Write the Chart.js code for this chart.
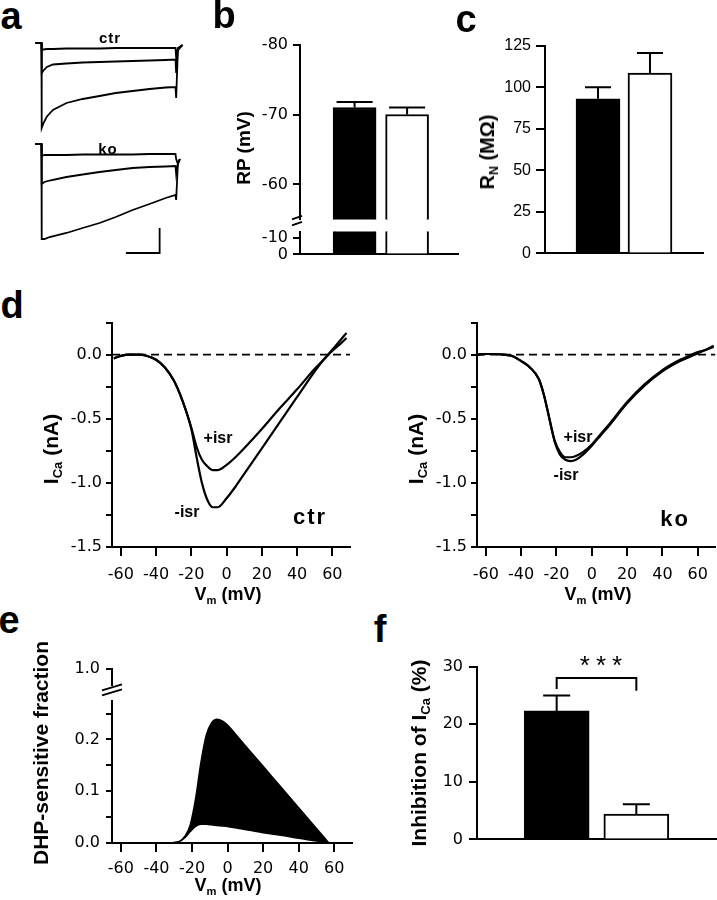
<!DOCTYPE html>
<html>
<head>
<meta charset="utf-8">
<script src="https://cdn.jsdelivr.net/npm/chart.js@4.4.1/dist/chart.umd.min.js"></script>
<style>
  body { margin: 0; background: #fff; width: 717px; height: 900px; position: relative; overflow: hidden;
         font-family: 'Liberation Sans', Arial, sans-serif; color: #000; }
  canvas { position: absolute; }
  .t { position: absolute; white-space: nowrap; line-height: 1; transform: translate(-50%, -50%); z-index: 2; }
  .r { transform: translate(-50%, -50%) rotate(-90deg); }
  .t sub { font-size: 0.62em; vertical-align: baseline; position: relative; top: 0.32em; }
  .L { font-size: 38px; font-weight: bold; }
  .ax { font-size: 19px; font-weight: bold; }
  .ax2 { font-size: 21px; font-weight: bold; }
  .axh { font-size: 18px; font-weight: bold; }
  .isr { font-size: 16px; font-weight: bold; }
  .grp { font-size: 22px; font-weight: bold; letter-spacing: 2px; }
  .grp-s { font-size: 15px; font-weight: bold; letter-spacing: 1px; }
</style>
</head>
<body>

<div class="t L" style="left:11px;top:16px">a</div>
<div class="t L" style="left:224px;top:15px">b</div>
<div class="t L" style="left:466px;top:19px">c</div>
<div class="t L" style="left:12px;top:305px">d</div>
<div class="t L" style="left:9px;top:620px">e</div>
<div class="t L" style="left:380px;top:629px">f</div>

<div class="t grp-s" style="left:110px;top:37px">ctr</div>
<div class="t grp-s" style="left:108px;top:148px">ko</div>

<div class="t ax r" style="left:243px;top:148px">RP (mV)</div>
<div class="t ax r" style="left:487px;top:152px;font-size:20px">R<sub>N</sub> (MΩ)</div>

<div class="t ax2 r" style="left:50px;top:449px">I<sub>Ca</sub> (nA)</div>
<div class="t ax2 r" style="left:415px;top:449px">I<sub>Ca</sub> (nA)</div>
<div class="t axh" style="left:228px;top:594px">V<sub>m</sub> (mV)</div>
<div class="t axh" style="left:598px;top:594px">V<sub>m</sub> (mV)</div>
<div class="t isr" style="left:218px;top:438px">+isr</div>
<div class="t isr" style="left:187px;top:512px">-isr</div>
<div class="t grp" style="left:310px;top:517px">ctr</div>
<div class="t isr" style="left:578px;top:437px">+isr</div>
<div class="t isr" style="left:566px;top:475px">-isr</div>
<div class="t grp" style="left:675px;top:519px">ko</div>

<div class="t ax2 r" style="left:40px;top:753px">DHP-sensitive fraction</div>
<div class="t axh" style="left:228px;top:885px">V<sub>m</sub> (mV)</div>
<div class="t ax2 r" style="left:418px;top:753px">Inhibition of I<sub>Ca</sub> (%)</div>
<div class="t" style="left:601px;top:665px;font-size:26px;letter-spacing:6px;padding-left:6px">***</div>

<script>
// ---------- data ----------
// a: example Ca current traces, time (ms) / current (nA)
const ctrTime = [-9, -0.1, 0.3, 3, 8, 17, 37, 61, 86, 110, 135, 160, 184, 198.5, 199.5, 202, 209];
const ctrLow  = [0, 0, -0.14, -0.13, -0.12, -0.12, -0.11, -0.11, -0.11, -0.1, -0.1, -0.1, -0.1, -0.1, -0.3, -0.1, -0.04];
const ctrMid  = [0, 0, -0.6, -0.55, -0.48, -0.43, -0.41, -0.39, -0.38, -0.37, -0.36, -0.35, -0.34, -0.33, -0.6, -0.12, -0.04];
const ctrHigh = [0, 0, -1.7, -1.6, -1.47, -1.34, -1.2, -1.12, -1.06, -1.0, -0.96, -0.92, -0.89, -0.88, -1.1, -0.15, -0.04];
const koTime  = [-9, -0.1, 0.3, 4.4, 12, 37, 61, 86, 110, 135, 160, 184, 198.5, 199.5, 202, 205];
const koLow   = [0, 0, -0.24, -0.22, -0.22, -0.22, -0.21, -0.21, -0.21, -0.21, -0.2, -0.2, -0.2, -0.3, -0.4, -0.3];
const koMid   = [0, 0, -0.8, -0.76, -0.73, -0.66, -0.61, -0.56, -0.52, -0.48, -0.46, -0.45, -0.44, -0.6, -0.4, -0.3];
const koHigh  = [0, 0, -1.9, -1.9, -1.86, -1.78, -1.68, -1.58, -1.46, -1.32, -1.2, -1.08, -1.02, -1.12, -0.4, -0.3];
const scaleBarTime = [125, 175, 175];      // 50 ms
const scaleBarCurr = [-2.18, -2.18, -1.68]; // 0.5 nA

// b, c, f: bar groups
const groups = ['ctr', 'ko'];
const groupX = [1, 2];
const rpMean = [-71.0, -70.0];
const rpSem  = [0.8, 1.0];
const rnMean = [93, 108.5];
const rnSem  = [7, 12];
const inhMean = [22.3, 4.4];
const inhSem  = [2.7, 1.7];
const sigX = [1, 1, 2, 2];
const sigY = [26.1, 28, 28, 25.8];

// d: I-V curves
const vmCtr = [-64, -60, -55, -50, -45, -40, -35, -30, -25, -20, -17, -14, -11, -8, -5, 0, 5, 10, 20, 30, 40, 50, 55, 60, 65, 68];
const ctrMinusIsr = [-0.03, -0.01, 0, 0, -0.01, -0.04, -0.1, -0.2, -0.36, -0.58, -0.8, -1.0, -1.13, -1.19, -1.19, -1.12, -1.03, -0.93, -0.73, -0.53, -0.33, -0.13, -0.04, 0.04, 0.12, 0.17];
const ctrPlusIsr  = [-0.03, -0.01, 0, 0, -0.01, -0.04, -0.1, -0.2, -0.36, -0.57, -0.72, -0.82, -0.87, -0.9, -0.9, -0.86, -0.8, -0.73, -0.58, -0.42, -0.27, -0.11, -0.04, 0.03, 0.09, 0.13];
const vmKo = [-65, -60, -55, -50, -45, -40, -35, -30, -27, -24, -21, -18, -15, -12, -9, -5, 0, 5, 10, 20, 30, 40, 50, 55, 60, 65, 69];
const koMinusIsr = [0, 0.005, 0.005, 0, -0.01, -0.05, -0.1, -0.19, -0.32, -0.5, -0.68, -0.78, -0.82, -0.83, -0.82, -0.78, -0.71, -0.63, -0.55, -0.38, -0.24, -0.13, -0.05, -0.02, 0.01, 0.04, 0.06];
const koPlusIsr  = [0, 0.005, 0.005, 0, -0.01, -0.05, -0.1, -0.19, -0.32, -0.5, -0.67, -0.76, -0.8, -0.8, -0.79, -0.76, -0.7, -0.62, -0.54, -0.37, -0.23, -0.12, -0.04, -0.01, 0.02, 0.04, 0.07];
const zeroV = [-65, 70];
const zeroI = [0, 0];

// e: DHP-sensitive fraction
const vmE = [-45, -40, -35, -30, -27, -24, -21, -18, -15, -12, -9, -6, -3, 0, 5, 10, 20, 30, 40, 50, 55, 57];
const dhpCtr = [0, 0, 0, 0.001, 0.003, 0.013, 0.035, 0.085, 0.155, 0.208, 0.232, 0.239, 0.236, 0.228, 0.208, 0.188, 0.148, 0.108, 0.068, 0.028, 0.008, 0];
const dhpKo  = [0, 0, 0, 0.0005, 0.003, 0.01, 0.022, 0.032, 0.036, 0.036, 0.035, 0.034, 0.033, 0.032, 0.029, 0.026, 0.02, 0.015, 0.009, 0.004, 0.001, 0];

// tick values
const rpTicksUp = [-80, -70, -60];
const rpTicksLow = [-10, 0];
const rnTicks = [0, 25, 50, 75, 100, 125];
const vmTicks = [-60, -40, -20, 0, 20, 40, 60];
const icaTicks = [0.25, 0, -0.25, -0.5, -0.75, -1, -1.25, -1.5];
const dhpTicks = [0, 0.05, 0.1, 0.15, 0.2, 0.25];
const dhpTopTicks = [1.0];
const inhTicks = [0, 10, 20, 30];

// ---------- defaults ----------
Chart.defaults.font.family = "'DejaVu Sans', 'Liberation Sans', Arial, sans-serif";
Chart.defaults.font.size = 16;
Chart.defaults.color = '#000';
Chart.defaults.animation = false;
Chart.defaults.responsive = false;
Chart.defaults.events = [];
Chart.defaults.layout.autoPadding = false;
Chart.defaults.plugins.legend.display = false;
Chart.defaults.plugins.tooltip.enabled = false;
Chart.defaults.elements.point.radius = 0;
Chart.defaults.elements.point.hoverRadius = 0;

const ARIAL = { family: "'Liberation Sans', Arial, sans-serif", size: 16 };

const pts = (xs, ys) => xs.map((x, i) => ({x, y: ys[i]}));

// canvas placed so that the chart area lands on the given rectangle
function frame(area, box) {
    const b = Object.assign({yW: 0, xH: 0, padT: 0, padR: 0, padB: 0}, box);
    const c = document.createElement('canvas');
    c.width = area.r - area.l + b.yW + b.padR;
    c.height = area.b - area.t + b.padT + b.xH + b.padB;
    c.style.left = (area.l - b.yW) + 'px';
    c.style.top = (area.t - b.padT) + 'px';
    document.body.appendChild(c);
    return {canvas: c, padding: {left: 0, top: b.padT, right: b.padR, bottom: b.padB}, yW: b.yW, xH: b.xH};
}

function yAxis(f, min, max, ticks, fmt, tl, pad, reverse, font) {
    return {
        type: 'linear', position: 'left', min, max, reverse: !!reverse,
        afterFit: s => { s.width = f.yW; },
        afterBuildTicks: s => { s.ticks = ticks.map(v => ({value: v})); },
        grid: { drawOnChartArea: false, drawTicks: true, tickLength: tl, tickWidth: 2, tickColor: '#000', lineWidth: 2, color: '#000' },
        border: { display: true, color: '#000', width: 2 },
        ticks: { padding: pad, autoSkip: false, callback: fmt, color: '#000', font: font },
    };
}

function xAxis(f, min, max, ticks, tl, pad) {
    const ax = {
        type: 'linear', position: 'bottom', min, max, offset: false,
        afterFit: s => { s.height = f.xH; },
        border: { display: true, color: '#000', width: 2 },
    };
    if (ticks) {
        ax.afterBuildTicks = s => { s.ticks = ticks.map(v => ({value: v})); };
        ax.grid = { drawOnChartArea: false, drawTicks: true, tickLength: tl, tickWidth: 2, tickColor: '#000', lineWidth: 2, color: '#000', offset: false };
        ax.ticks = { padding: pad, autoSkip: false, maxRotation: 0, callback: v => String(v), color: '#000' };
    } else {
        ax.grid = { drawOnChartArea: false, drawTicks: false, lineWidth: 2, color: '#000', offset: false };
        ax.ticks = { display: false };
    }
    return ax;
}

const hiddenX = (min, max) => ({ type: 'linear', display: false, offset: false, min, max });

// error bars (upward only) from mean/sem arrays
const errorBarPlugin = {
    id: 'errorBars',
    afterDatasetsDraw(chart, args, o) {
        const {ctx, scales: {x, y}} = chart;
        ctx.save();
        ctx.strokeStyle = '#000';
        ctx.lineWidth = 2;
        o.x.forEach((xv, i) => {
            const m = o.mean[i];
            const tip = m + (m < 0 ? -o.sem[i] : o.sem[i]);
            const px = x.getPixelForValue(xv);
            const y0 = y.getPixelForValue(m);
            const y1 = y.getPixelForValue(tip);
            ctx.beginPath();
            ctx.moveTo(px, y0); ctx.lineTo(px, y1);
            ctx.moveTo(px - o.cap / 2, y1); ctx.lineTo(px + o.cap / 2, y1);
            ctx.stroke();
        });
        ctx.restore();
    },
};

// "//" marks at the bottom of a broken y axis
const breakPlugin = {
    id: 'axisBreak',
    afterDraw(chart, args, o) {
        const {ctx, chartArea: a} = chart;
        ctx.save();
        ctx.strokeStyle = '#000';
        ctx.lineWidth = 2;
        o.lines.forEach(([x1, y1, x2, y2]) => {
            ctx.beginPath();
            ctx.moveTo(a.left + x1, a.bottom + y1);
            ctx.lineTo(a.left + x2, a.bottom + y2);
            ctx.stroke();
        });
        ctx.restore();
    },
};

function barSet(means, thickness) {
    return {
        type: 'bar',
        label: 'mean',
        data: pts(groupX, means),
        backgroundColor: ['#000', '#fff'],
        borderColor: '#000',
        borderWidth: 2,
        barThickness: thickness,
        clip: 0,
    };
}

function traceSet(time, curr) {
    return { data: pts(time, curr), borderColor: '#000', borderWidth: 1.8, tension: 0, fill: false };
}

function curveSet(v, i, width) {
    return { data: pts(v, i), borderColor: '#000', borderWidth: width || 2.2, cubicInterpolationMode: 'monotone', fill: false };
}

function zeroSet() {
    return { data: pts(zeroV, zeroI), borderColor: '#000', borderWidth: 1.6, borderDash: [8, 5], fill: false };
}

const fmt1 = v => (Math.abs(v * 2 - Math.round(v * 2)) < 1e-9 ? v.toFixed(1) : '');

// ---------- a: traces ----------
(function () {
    const f = frame({l: 28, t: 30, r: 190, b: 135}, {});
    new Chart(f.canvas, {
        type: 'line',
        data: { datasets: [traceSet(ctrTime, ctrLow), traceSet(ctrTime, ctrMid), traceSet(ctrTime, ctrHigh)] },
        options: {
            layout: { padding: f.padding },
            scales: {
                x: hiddenX(-20, 220),
                y: { type: 'linear', display: false, min: -1.84, max: 0.26 },
            },
        },
    });
    const g = frame({l: 28, t: 132, r: 190, b: 260}, {});
    new Chart(g.canvas, {
        type: 'line',
        data: { datasets: [
            traceSet(koTime, koLow), traceSet(koTime, koMid), traceSet(koTime, koHigh),
            traceSet(scaleBarTime, scaleBarCurr),
        ] },
        options: {
            layout: { padding: g.padding },
            scales: {
                x: hiddenX(-20, 220),
                y: { type: 'linear', display: false, min: -2.32, max: 0.24 },
            },
        },
    });
})();

// ---------- b: resting potential (broken axis) ----------
(function () {
    const up = frame({l: 300, t: 42, r: 458, b: 222}, {yW: 70, padT: 12, padR: 2, padB: 12});
    new Chart(up.canvas, {
        type: 'bar',
        data: { labels: groups, datasets: [barSet(rpMean, 43)] },
        options: {
            layout: { padding: up.padding },
            scales: {
                x: hiddenX(-0.04, 2.97),
                y: yAxis(up, -80, -55, rpTicksUp, v => String(v), 7, 5, true),
            },
            plugins: {
                errorBars: { x: groupX, mean: rpMean, sem: rpSem, cap: 36 },
                axisBreak: { lines: [[-8, 0, 2, -3.5], [-8, 6, 2, 2.5]] },
            },
        },
        plugins: [errorBarPlugin, breakPlugin],
    });
    const low = frame({l: 300, t: 227, r: 458, b: 257}, {yW: 70, padT: 10, padR: 2, padB: 12});
    new Chart(low.canvas, {
        type: 'bar',
        data: { labels: groups, datasets: [barSet(rpMean, 43)] },
        options: {
            layout: { padding: low.padding },
            scales: {
                x: xAxis(low, -0.04, 2.97, null),
                y: yAxis(low, -13.6, 0, rpTicksLow, v => String(v), 7, 5, true),
            },
        },
    });
})();

// ---------- c: input resistance ----------
(function () {
    const f = frame({l: 545, t: 43, r: 703, b: 256}, {yW: 70, padT: 12, padR: 2, padB: 12});
    new Chart(f.canvas, {
        type: 'bar',
        data: { labels: groups, datasets: [barSet(rnMean, 44)] },
        options: {
            layout: { padding: f.padding },
            scales: {
                x: xAxis(f, -0.02, 3.02, null),
                y: yAxis(f, 0, 125, rnTicks, v => String(v), 9, 5, false, ARIAL),
            },
            plugins: { errorBars: { x: groupX, mean: rnMean, sem: rnSem, cap: 26 } },
        },
        plugins: [errorBarPlugin],
    });
})();

// ---------- d: I-V curves ----------
function ivChart(area, v, minus, plus) {
    const f = frame(area, {yW: 70, xH: 40, padT: 12, padR: area.r > 710 ? 1 : 6});
    new Chart(f.canvas, {
        type: 'line',
        data: { datasets: [zeroSet(), curveSet(v, minus), curveSet(v, plus)] },
        options: {
            layout: { padding: f.padding },
            scales: {
                x: xAxis(f, -65, 70, vmTicks, 9, 9),
                y: yAxis(f, -1.5, 0.25, icaTicks, fmt1, 6, 4),
            },
        },
    });
}
ivChart({l: 112, t: 321, r: 350, b: 547}, vmCtr, ctrMinusIsr, ctrPlusIsr);
ivChart({l: 477, t: 321, r: 716, b: 547}, vmKo, koMinusIsr, koPlusIsr);

// ---------- e: DHP-sensitive fraction (broken axis) ----------
(function () {
    const up = frame({l: 112, t: 665, r: 352, b: 687}, {yW: 70, padT: 12, padR: 6, padB: 14});
    new Chart(up.canvas, {
        type: 'line',
        data: { datasets: [] },
        options: {
            layout: { padding: up.padding },
            scales: {
                x: hiddenX(-65, 70),
                y: yAxis(up, 0.96, 1.0, dhpTopTicks, v => v.toFixed(1), 6, 6),
            },
            plugins: { axisBreak: { lines: [[-10, 5, 10, -1], [-10, 10, 10, 4]] } },
        },
        plugins: [breakPlugin],
    });
    const low = frame({l: 112, t: 697, r: 352, b: 843}, {yW: 70, xH: 40, padT: 12, padR: 6});
    new Chart(low.canvas, {
        type: 'line',
        data: { datasets: [
            { data: pts(vmE, dhpCtr), borderColor: '#000', borderWidth: 1.5, backgroundColor: '#000',
              cubicInterpolationMode: 'monotone', fill: '+1' },
            { data: pts(vmE, dhpKo), borderColor: '#000', borderWidth: 1.5,
              cubicInterpolationMode: 'monotone', fill: false },
        ] },
        options: {
            layout: { padding: low.padding },
            scales: {
                x: xAxis(low, -65, 70, vmTicks, 9, 7),
                y: yAxis(low, 0, 0.275, dhpTicks, v => (Math.round(v * 100) % 10 === 0 ? v.toFixed(1) : ''), 6, 6),
            },
        },
    });
})();

// ---------- f: inhibition of ICa ----------
(function () {
    const f = frame({l: 477, t: 665, r: 716, b: 843}, {yW: 70, padT: 14, padR: 1, padB: 12});
    new Chart(f.canvas, {
        type: 'bar',
        data: { labels: groups, datasets: [
            barSet(inhMean, 65),
            { type: 'line', data: pts(sigX, sigY), borderColor: '#000', borderWidth: 2, tension: 0, fill: false },
        ] },
        options: {
            layout: { padding: f.padding },
            scales: {
                x: xAxis(f, 0, 3, null),
                y: yAxis(f, 0, 30, inhTicks, v => String(v), 8, 6),
            },
            plugins: { errorBars: { x: groupX, mean: inhMean, sem: inhSem, cap: 27 } },
        },
        plugins: [errorBarPlugin],
    });
})();
</script>
</body>
</html>
